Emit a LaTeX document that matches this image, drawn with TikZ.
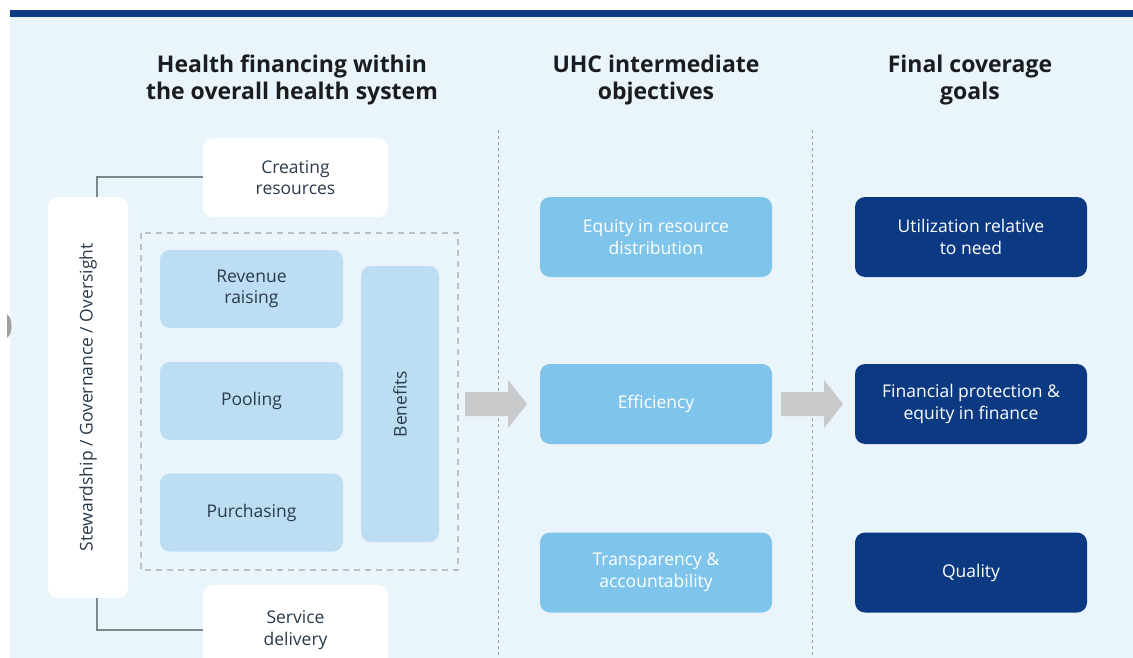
\documentclass[tikz,border=0pt]{standalone}
\usepackage{fontspec}
\setmainfont{Open Sans}
\definecolor{bg}{HTML}{EAF4FB}
\definecolor{bar}{HTML}{0D3B85}
\definecolor{lightbox}{HTML}{BCDDF2}
\definecolor{midbox}{HTML}{7FC4EA}
\definecolor{darkbox}{HTML}{0B3A83}
\definecolor{conngray}{HTML}{7C868F}
\definecolor{dashgray}{HTML}{B8C0C8}
\definecolor{sepgray}{HTML}{9AA3AC}
\definecolor{arrowgray}{HTML}{C8C9CA}
\definecolor{boxtext}{HTML}{2B3A4C}
\definecolor{headtext}{HTML}{1A1C1F}
\begin{document}
\begin{tikzpicture}[x=1pt,y=-1pt,
  base/.style={rounded corners=10pt, align=center, inner sep=0pt,
    font=\fontsize{17.5}{21.5}\selectfont},
  whitebox/.style={base, fill=white, text=boxtext},
  lbox/.style={base, fill=lightbox, text=boxtext, minimum width=183pt, minimum height=78pt},
  mbox/.style={base, fill=midbox, text=white, minimum width=232pt, minimum height=80pt},
  dbox/.style={base, fill=darkbox, text=white, minimum width=232pt, minimum height=80pt},
  heading/.style={align=center, text=headtext, font=\fontsize{23}{26.5}\selectfont\bfseries},
  vtext/.style={rotate=90, text=boxtext, font=\fontsize{17.5}{21.5}\selectfont},
  conn/.style={draw=conngray, line width=2pt},
  sep/.style={draw=sepgray, line width=0.8pt, dash pattern=on 3pt off 3pt},
  bigarrow/.style={fill=arrowgray}
]
\useasboundingbox (0,0) rectangle (1133,658);
\fill[white] (0,0) rectangle (1133,658);
\fill[bg] (10,17) rectangle (1133,658);
\fill[bar] (10,10) rectangle (1133,17);
\fill[gray!75] (7,314) .. controls (13,318) and (13,334) .. (7,338) -- cycle;

% headings
\node[heading] (h1) at (292,80) {Health financing within\\the overall health system};
\node[heading] (h2) at (656,80) {UHC intermediate\\objectives};
\node[heading] (h3) at (970,80) {Final coverage\\goals};

% separators
\draw[sep] (498,130) -- (498,658);
\draw[sep] (812,130) -- (812,658);

% left column
\node[whitebox, minimum width=80pt, minimum height=401pt] (st) at (88,397.5) {};
\node[vtext] (stt) at (st.center) {Stewardship / Governance / Oversight};
\node[whitebox, minimum width=185pt, minimum height=79pt] (cr) at (295.5,177.5) {Creating\\resources};
\node[whitebox, minimum width=185pt, minimum height=90pt] (sd) at (295.5,630) {Service\\delivery};

\draw[dashgray, line width=1.2pt, dash pattern=on 6pt off 5pt] (141,233) rectangle (458,570);

\node[lbox] (rr) at (251.5,289) {Revenue\\raising};
\node[lbox] (po) at (251.5,401) {Pooling};
\node[lbox] (pu) at (251.5,512.5) {Purchasing};
\node[base, fill=lightbox, minimum width=78pt, minimum height=276pt] (be) at (400,404) {};
\node[vtext] (bet) at (be.center) {Benefits};

\draw[conn] ([xshift=9pt]st.north) |- (cr.west);
\draw[conn] ([xshift=9pt]st.south) |- (sd.west);

% middle column
\node[mbox] (eq) at (656,237) {Equity in resource\\distribution};
\node[mbox] (ef) at (656,404) {Efficiency};
\node[mbox] (tr) at (656,572.5) {Transparency \&\\accountability};

% right column
\node[dbox] (ut) at (971,237) {Utilization relative\\to need};
\node[dbox] (fp) at (971,404) {Financial protection \&\\equity in finance};
\node[dbox] (qu) at (971,572.5) {Quality};

% big arrows
\fill[bigarrow] (465,392) -- (508,392) -- (508,380) -- (527,404) -- (508,428) -- (508,416) -- (465,416) -- cycle;
\fill[bigarrow] (781,392) -- (824,392) -- (824,380) -- (843,404) -- (824,428) -- (824,416) -- (781,416) -- cycle;
\end{tikzpicture}
\end{document}
